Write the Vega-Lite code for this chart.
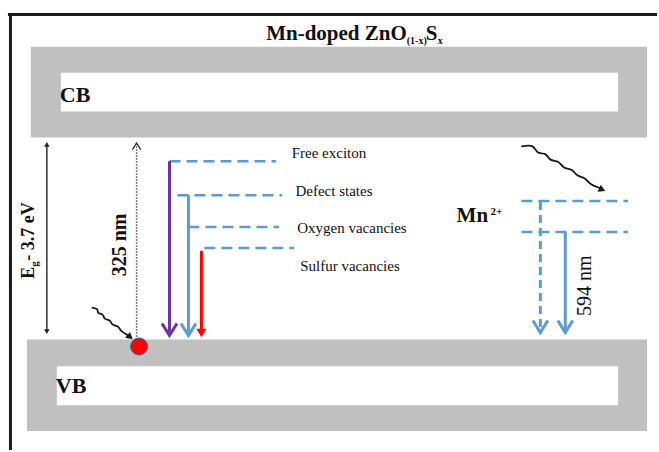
{
  "$schema": "https://vega.github.io/schema/vega-lite/v6.json",
  "width": 659,
  "height": 452,
  "autosize": {"type": "fit", "contains": "padding"},
  "padding": 0,
  "background": "white",
  "config": {"view": {"stroke": null}, "text": {"font": "Liberation Serif"}},
  "datasets": {
    "frame": [
      {"x": 8, "x2": 659, "y": 14.5, "y2": 14.5},
      {"x": 10.5, "x2": 10.5, "y": 13, "y2": 452}
    ],
    "bands": [
      {"band": "CB", "x": 31, "x2": 649, "y": 47, "y2": 138},
      {"band": "VB", "x": 27, "x2": 649, "y": 341, "y2": 433}
    ],
    "gaps": [
      {"band": "CB", "x": 61, "x2": 620, "y": 73, "y2": 112},
      {"band": "VB", "x": 57, "x2": 620, "y": 368, "y2": 407}
    ],
    "levels": [
      {"level": "Free exciton", "x": 170, "x2": 277, "y": 162},
      {"level": "Defect states", "x": 178, "x2": 283, "y": 196},
      {"level": "Oxygen vacancies", "x": 189, "x2": 280, "y": 228},
      {"level": "Sulfur vacancies", "x": 205, "x2": 295, "y": 249},
      {"level": "Mn upper", "x": 523, "x2": 630, "y": 202},
      {"level": "Mn lower", "x": 523, "x2": 630, "y": 233}
    ],
    "shafts": [
      {"t": "exciton", "x": 170, "y": 162, "y2": 334},
      {"t": "defect", "x": 189, "y": 196, "y2": 334},
      {"t": "sulfur", "x": 202, "y": 252, "y2": 332},
      {"t": "mn", "x": 567, "y": 233, "y2": 331}
    ],
    "mndash": [{"x": 542, "y": 203, "y2": 330}],
    "chevrons": [
      {"t": "exciton", "x": 170, "y": 331},
      {"t": "defect", "x": 189, "y": 331},
      {"t": "mn", "x": 542, "y": 328},
      {"t": "mn", "x": 567, "y": 328}
    ],
    "redhead": [{"x": 202, "y": 334.5}],
    "eg": [{"x": 47, "y": 146, "y2": 332}],
    "egheads": [
      {"dir": "up", "x": 47, "y": 145},
      {"dir": "down", "x": 47, "y": 333}
    ],
    "dotted": [{"x": 137, "y": 144, "y2": 339}],
    "dottedhead": [{"x": 137, "y": 147}],
    "waves": [
      {"id": "left", "i": 0, "x": 92, "y": 309},
      {"id": "left", "i": 1, "x": 99, "y": 310},
      {"id": "left", "i": 2, "x": 97, "y": 315},
      {"id": "left", "i": 3, "x": 104, "y": 315},
      {"id": "left", "i": 4, "x": 104, "y": 321},
      {"id": "left", "i": 5, "x": 111, "y": 321},
      {"id": "left", "i": 6, "x": 112, "y": 327},
      {"id": "left", "i": 7, "x": 119, "y": 327},
      {"id": "left", "i": 8, "x": 121, "y": 333},
      {"id": "left", "i": 9, "x": 129, "y": 337},
      {"id": "right", "i": 0, "x": 523, "y": 147},
      {"id": "right", "i": 1, "x": 536, "y": 145},
      {"id": "right", "i": 2, "x": 538, "y": 155},
      {"id": "right", "i": 3, "x": 548, "y": 153},
      {"id": "right", "i": 4, "x": 551, "y": 162},
      {"id": "right", "i": 5, "x": 561, "y": 161},
      {"id": "right", "i": 6, "x": 565, "y": 170},
      {"id": "right", "i": 7, "x": 574, "y": 169},
      {"id": "right", "i": 8, "x": 578, "y": 177},
      {"id": "right", "i": 9, "x": 587, "y": 178},
      {"id": "right", "i": 10, "x": 591, "y": 185},
      {"id": "right", "i": 11, "x": 602, "y": 189}
    ],
    "waveheads": [
      {"id": "left", "x": 130.5, "y": 338.5, "a": 40},
      {"id": "right", "x": 604, "y": 190.5, "a": 25}
    ],
    "dot": [{"x": 139.5, "y": 348}],
    "levelLabels": [
      {"x": 330, "y": 154, "text": "Free exciton"},
      {"x": 335, "y": 192, "text": "Defect states"},
      {"x": 353, "y": 229, "text": "Oxygen vacancies"},
      {"x": 351, "y": 267, "text": "Sulfur vacancies"}
    ],
    "bandLabels": [
      {"x": 60, "y": 102, "text": "CB"},
      {"x": 56, "y": 395, "text": "VB"}
    ],
    "titleMain": [{"x": 408, "y": 40, "text": "Mn-doped ZnO"}],
    "titleS": [{"x": 427, "y": 40, "text": "S"}],
    "titleSub": [{"x": 408, "y": 44, "text": "(1-x)"}, {"x": 439, "y": 44, "text": "x"}],
    "mnMain": [{"x": 458, "y": 223, "text": "Mn"}],
    "mnSup": [{"x": 492, "y": 216, "text": "2+"}],
    "rotBold": [{"x": 120, "y": 246, "text": "325 nm"}],
    "rotNormal": [{"x": 587, "y": 287, "text": "594 nm"}],
    "egE": [{"x": 29, "y": 280, "text": "E"}],
    "egSub": [{"x": 35, "y": 268, "text": "g"}],
    "egRest": [{"x": 29, "y": 262, "text": " - 3.7 eV"}]
  },
  "layer": [
    {
      "data": {"name": "frame"},
      "mark": {"type": "rule", "color": "#1a1a1a", "strokeWidth": 3},
      "encoding": {
        "x": {"field": "x", "type": "quantitative", "scale": {"domain": [0, 659], "nice": false, "zero": false}, "axis": null},
        "x2": {"field": "x2"},
        "y": {"field": "y", "type": "quantitative", "scale": {"domain": [0, 452], "nice": false, "zero": false, "reverse": true}, "axis": null},
        "y2": {"field": "y2"}
      }
    },
    {
      "data": {"name": "bands"},
      "mark": {"type": "rect", "color": "#c0c0c0"},
      "encoding": {
        "x": {"field": "x", "type": "quantitative", "axis": null},
        "x2": {"field": "x2"},
        "y": {"field": "y", "type": "quantitative", "axis": null},
        "y2": {"field": "y2"}
      }
    },
    {
      "data": {"name": "gaps"},
      "mark": {"type": "rect", "color": "#ffffff"},
      "encoding": {
        "x": {"field": "x", "type": "quantitative", "axis": null},
        "x2": {"field": "x2"},
        "y": {"field": "y", "type": "quantitative", "axis": null},
        "y2": {"field": "y2"}
      }
    },
    {
      "data": {"name": "levels"},
      "mark": {"type": "rule", "color": "#5b9bd5", "strokeWidth": 2.5, "strokeDash": [11, 6]},
      "encoding": {
        "x": {"field": "x", "type": "quantitative", "axis": null},
        "x2": {"field": "x2"},
        "y": {"field": "y", "type": "quantitative", "axis": null}
      }
    },
    {
      "data": {"name": "shafts"},
      "mark": {"type": "rule", "strokeWidth": 3},
      "encoding": {
        "x": {"field": "x", "type": "quantitative", "axis": null},
        "y": {"field": "y", "type": "quantitative", "axis": null},
        "y2": {"field": "y2"},
        "color": {"field": "t", "type": "nominal", "scale": {"domain": ["exciton", "defect", "sulfur", "mn"], "range": ["#7030a0", "#5b9bd5", "#ff0000", "#5b9bd5"]}, "legend": null}
      }
    },
    {
      "data": {"name": "mndash"},
      "mark": {"type": "rule", "strokeWidth": 3, "color": "#5b9bd5", "strokeDash": [8, 5]},
      "encoding": {
        "x": {"field": "x", "type": "quantitative", "axis": null},
        "y": {"field": "y", "type": "quantitative", "axis": null},
        "y2": {"field": "y2"}
      }
    },
    {
      "data": {"name": "chevrons"},
      "mark": {"type": "point", "shape": "M-1,-0.8L0,0.8L1,-0.8", "filled": false, "strokeWidth": 3, "size": 225, "opacity": 1, "strokeJoin": "miter"},
      "encoding": {
        "x": {"field": "x", "type": "quantitative", "axis": null},
        "y": {"field": "y", "type": "quantitative", "axis": null},
        "color": {"field": "t", "type": "nominal", "legend": null}
      }
    },
    {
      "data": {"name": "redhead"},
      "mark": {"type": "point", "shape": "triangle-down", "filled": true, "color": "#ff0000", "size": 100, "opacity": 1},
      "encoding": {
        "x": {"field": "x", "type": "quantitative", "axis": null},
        "y": {"field": "y", "type": "quantitative", "axis": null}
      }
    },
    {
      "data": {"name": "eg"},
      "mark": {"type": "rule", "strokeWidth": 1.5, "color": "#333333"},
      "encoding": {
        "x": {"field": "x", "type": "quantitative", "axis": null},
        "y": {"field": "y", "type": "quantitative", "axis": null},
        "y2": {"field": "y2"}
      }
    },
    {
      "data": {"name": "egheads"},
      "mark": {"type": "point", "filled": true, "color": "#222222", "size": 30, "opacity": 1},
      "encoding": {
        "x": {"field": "x", "type": "quantitative", "axis": null},
        "y": {"field": "y", "type": "quantitative", "axis": null},
        "shape": {"field": "dir", "type": "nominal", "scale": {"domain": ["up", "down"], "range": ["triangle-up", "triangle-down"]}, "legend": null}
      }
    },
    {
      "data": {"name": "dotted"},
      "mark": {"type": "rule", "strokeWidth": 1.5, "color": "#555555", "strokeDash": [1.5, 1.5]},
      "encoding": {
        "x": {"field": "x", "type": "quantitative", "axis": null},
        "y": {"field": "y", "type": "quantitative", "axis": null},
        "y2": {"field": "y2"}
      }
    },
    {
      "data": {"name": "dottedhead"},
      "mark": {"type": "point", "shape": "M-1,0.8L0,-0.8L1,0.8", "filled": false, "strokeWidth": 1.3, "size": 70, "color": "#333333", "opacity": 1},
      "encoding": {
        "x": {"field": "x", "type": "quantitative", "axis": null},
        "y": {"field": "y", "type": "quantitative", "axis": null}
      }
    },
    {
      "data": {"name": "waves"},
      "mark": {"type": "line", "color": "#1a1a1a", "strokeWidth": 1.8, "interpolate": "basis"},
      "encoding": {
        "x": {"field": "x", "type": "quantitative", "axis": null},
        "y": {"field": "y", "type": "quantitative", "axis": null},
        "order": {"field": "i", "type": "quantitative"},
        "detail": {"field": "id", "type": "nominal"}
      }
    },
    {
      "data": {"name": "waveheads"},
      "mark": {"type": "point", "shape": "triangle-right", "filled": true, "color": "#1a1a1a", "size": 60, "opacity": 1},
      "encoding": {
        "x": {"field": "x", "type": "quantitative", "axis": null},
        "y": {"field": "y", "type": "quantitative", "axis": null},
        "angle": {"field": "a", "type": "quantitative", "scale": null}
      }
    },
    {
      "data": {"name": "dot"},
      "mark": {"type": "point", "shape": "circle", "filled": true, "fill": "#ff0000", "stroke": "#4a5f9a", "strokeWidth": 1, "size": 290, "opacity": 1},
      "encoding": {
        "x": {"field": "x", "type": "quantitative", "axis": null},
        "y": {"field": "y", "type": "quantitative", "axis": null}
      }
    },
    {
      "data": {"name": "levelLabels"},
      "mark": {"type": "text", "fontSize": 15, "align": "center", "baseline": "middle", "color": "#111111"},
      "encoding": {
        "x": {"field": "x", "type": "quantitative", "axis": null},
        "y": {"field": "y", "type": "quantitative", "axis": null},
        "text": {"field": "text"}
      }
    },
    {
      "data": {"name": "bandLabels"},
      "mark": {"type": "text", "fontSize": 22, "fontWeight": "bold", "align": "left", "baseline": "alphabetic", "color": "#111111"},
      "encoding": {
        "x": {"field": "x", "type": "quantitative", "axis": null},
        "y": {"field": "y", "type": "quantitative", "axis": null},
        "text": {"field": "text"}
      }
    },
    {
      "data": {"name": "titleMain"},
      "mark": {"type": "text", "fontSize": 21, "fontWeight": "bold", "align": "right", "baseline": "alphabetic", "color": "#111111"},
      "encoding": {
        "x": {"field": "x", "type": "quantitative", "axis": null},
        "y": {"field": "y", "type": "quantitative", "axis": null},
        "text": {"field": "text"}
      }
    },
    {
      "data": {"name": "titleS"},
      "mark": {"type": "text", "fontSize": 21, "fontWeight": "bold", "align": "left", "baseline": "alphabetic", "color": "#111111"},
      "encoding": {
        "x": {"field": "x", "type": "quantitative", "axis": null},
        "y": {"field": "y", "type": "quantitative", "axis": null},
        "text": {"field": "text"}
      }
    },
    {
      "data": {"name": "titleSub"},
      "mark": {"type": "text", "fontSize": 10, "fontWeight": "bold", "align": "left", "baseline": "alphabetic", "color": "#111111"},
      "encoding": {
        "x": {"field": "x", "type": "quantitative", "axis": null},
        "y": {"field": "y", "type": "quantitative", "axis": null},
        "text": {"field": "text"}
      }
    },
    {
      "data": {"name": "mnMain"},
      "mark": {"type": "text", "fontSize": 21, "fontWeight": "bold", "align": "left", "baseline": "alphabetic", "color": "#111111"},
      "encoding": {
        "x": {"field": "x", "type": "quantitative", "axis": null},
        "y": {"field": "y", "type": "quantitative", "axis": null},
        "text": {"field": "text"}
      }
    },
    {
      "data": {"name": "mnSup"},
      "mark": {"type": "text", "fontSize": 11, "fontWeight": "bold", "align": "left", "baseline": "alphabetic", "color": "#111111"},
      "encoding": {
        "x": {"field": "x", "type": "quantitative", "axis": null},
        "y": {"field": "y", "type": "quantitative", "axis": null},
        "text": {"field": "text"}
      }
    },
    {
      "data": {"name": "rotBold"},
      "mark": {"type": "text", "fontSize": 20, "fontWeight": "bold", "align": "center", "baseline": "middle", "angle": 270, "color": "#111111"},
      "encoding": {
        "x": {"field": "x", "type": "quantitative", "axis": null},
        "y": {"field": "y", "type": "quantitative", "axis": null},
        "text": {"field": "text"}
      }
    },
    {
      "data": {"name": "rotNormal"},
      "mark": {"type": "text", "fontSize": 20, "align": "center", "baseline": "middle", "angle": 270, "color": "#111111"},
      "encoding": {
        "x": {"field": "x", "type": "quantitative", "axis": null},
        "y": {"field": "y", "type": "quantitative", "axis": null},
        "text": {"field": "text"}
      }
    },
    {
      "data": {"name": "egE"},
      "mark": {"type": "text", "fontSize": 18, "fontWeight": "bold", "align": "left", "baseline": "middle", "angle": 270, "color": "#111111"},
      "encoding": {
        "x": {"field": "x", "type": "quantitative", "axis": null},
        "y": {"field": "y", "type": "quantitative", "axis": null},
        "text": {"field": "text"}
      }
    },
    {
      "data": {"name": "egSub"},
      "mark": {"type": "text", "fontSize": 11, "fontWeight": "bold", "align": "left", "baseline": "middle", "angle": 270, "color": "#111111"},
      "encoding": {
        "x": {"field": "x", "type": "quantitative", "axis": null},
        "y": {"field": "y", "type": "quantitative", "axis": null},
        "text": {"field": "text"}
      }
    },
    {
      "data": {"name": "egRest"},
      "mark": {"type": "text", "fontSize": 18, "fontWeight": "bold", "align": "left", "baseline": "middle", "angle": 270, "color": "#111111"},
      "encoding": {
        "x": {"field": "x", "type": "quantitative", "axis": null},
        "y": {"field": "y", "type": "quantitative", "axis": null},
        "text": {"field": "text"}
      }
    }
  ]
}
